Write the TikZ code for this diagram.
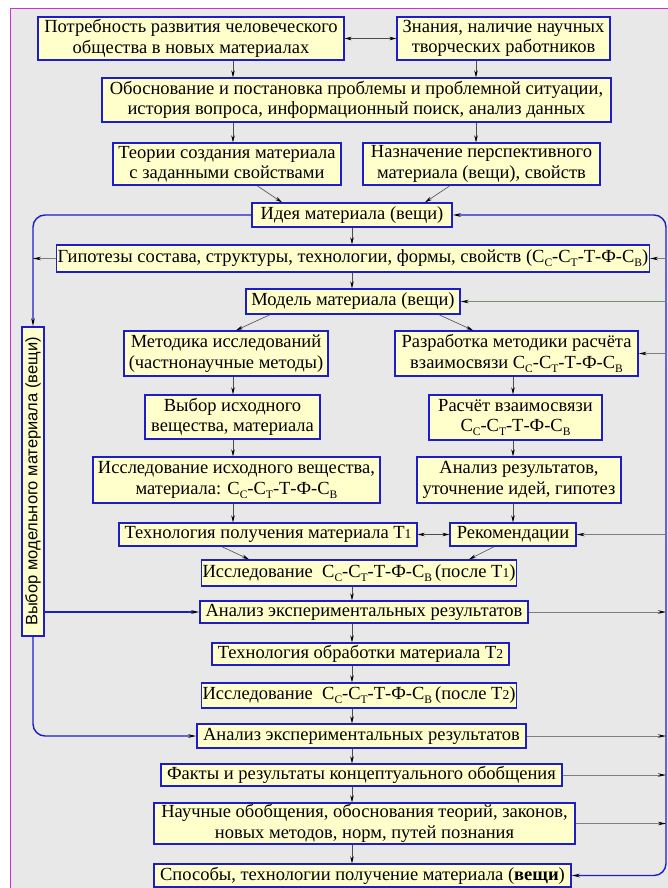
\documentclass[tikz,border=0pt]{standalone}
\usepackage{fontspec}
\setmainfont{Liberation Serif}
\setsansfont{Liberation Sans}
\usetikzlibrary{arrows.meta}

\definecolor{bggrey}{RGB}{232,232,232}
\definecolor{framepink}{RGB}{204,51,204}
\definecolor{boxfill}{RGB}{255,255,204}
\definecolor{boxblue}{RGB}{30,30,200}
\definecolor{linkgrey}{RGB}{125,125,125}
\definecolor{linkgreen}{RGB}{110,150,110}

\newcommand{\lowidx}[1]{\raisebox{-0.5ex}{\fontsize{11.5}{11.5}\selectfont #1}}
\newcommand{\cctf}{С\lowidx{С}-С\lowidx{Т}-Т-Ф-С\lowidx{В}}
\newcommand{\tidx}[1]{Т{\fontsize{13.5}{13.5}\selectfont #1}}

\begin{document}
\begin{tikzpicture}[x=1pt,y=-1pt,
    blk/.style={draw=boxblue,fill=boxfill,line width=1.4pt,align=center,inner sep=1pt,
        font=\rmfamily\fontsize{18.5}{20.5}\selectfont},
    arr/.style={-{Stealth[length=7pt,width=3.5pt,black]},draw=black!70,line width=0.6pt},
    arrboth/.style={{Stealth[length=7pt,width=3.5pt,black]}-{Stealth[length=7pt,width=3.5pt,black]},draw=black!70,line width=0.6pt},
    glink/.style={-{Stealth[length=8pt,width=3.5pt,black]},draw=linkgrey,line width=0.8pt},
    bus/.style={-{Stealth[length=8pt,width=3.5pt,black]},draw=boxblue,line width=1.4pt,rounded corners=12pt},
    busboth/.style={{Stealth[length=8pt,width=3.5pt,black]}-{Stealth[length=8pt,width=3.5pt,black]},draw=boxblue,line width=1.4pt,rounded corners=12pt}]
    % фон и рамка
    \useasboundingbox (0,0) rectangle (668,888);
    \fill[bggrey] (10,8) rectangle (668,888);
    \draw[framepink,line width=1.5pt] (10.5,888) -- (10.5,8.5) -- (668,8.5);

    % оси стрелок
    \coordinate (axl) at (233,0);
    \coordinate (axt) at (476,0);
    \coordinate (axm) at (352,0);
    \coordinate (axr) at (513,0);
    \coordinate (rbus) at (666,0);

    % блоки
    \node[blk,minimum width=306pt,minimum height=43pt] (need) at (191,38.5) {Потребность развития человеческого\\общества в новых материалах};
    \node[blk,minimum width=213pt,minimum height=43pt] (know) at (503.5,38.5) {Знания, наличие научных\\творческих работников};
    \node[blk,minimum width=509pt,minimum height=44pt] (obos) at (356.5,100) {Обоснование и постановка проблемы и проблемной ситуации,\\история вопроса, информационный поиск, анализ данных};
    \node[blk,minimum width=228pt,minimum height=42pt] (theor) at (227,164) {Теории создания материала\\с заданными свойствами};
    \node[blk,minimum width=237pt,minimum height=42pt] (purp) at (481.5,164) {Назначение перспективного\\материала (вещи), свойств};
    \node[blk,minimum width=200pt,minimum height=24pt] (idea) at (352,215) {Идея материала (вещи)};
    \node[blk,minimum width=588pt,minimum height=27pt] (hyp) at (353,258.5) {Гипотезы состава, структуры, технологии, формы, свойств (\cctf)};
    \node[blk,minimum width=214pt,minimum height=25pt] (model) at (353,301.5) {Модель материала (вещи)};
    \node[blk,minimum width=204pt,minimum height=45pt] (meth) at (226,353.5) {Методика исследований\\(частнонаучные методы)};
    \node[blk,minimum width=243pt,minimum height=45pt] (devm) at (516.5,353.5) {Разработка методики расчёта\\взаимосвязи \cctf};
    \node[blk,minimum width=175pt,minimum height=44pt] (choice) at (232.5,417) {Выбор исходного\\вещества, материала};
    \node[blk,minimum width=173pt,minimum height=45pt] (calc) at (515.5,417.5) {Расчёт взаимосвязи\\\cctf};
    \node[blk,minimum width=287pt,minimum height=46pt] (study) at (236.5,480) {Исследование исходного вещества,\\материала: \cctf};
    \node[blk,minimum width=204pt,minimum height=46pt] (anres) at (519,480) {Анализ результатов,\\уточнение идей, гипотез};
    \node[blk,minimum width=298pt,minimum height=23pt] (tech1) at (268,534.5) {Технология получения материала \tidx{1}};
    \node[blk,minimum width=126pt,minimum height=23pt] (recom) at (513,534.5) {Рекомендации};
    \node[blk,minimum width=304pt,minimum height=26pt] (st1) at (359,573) {Исследование\ \ \cctf\,(после \tidx{1})};
    \node[blk,minimum width=328pt,minimum height=22pt] (an1) at (364,612) {Анализ экспериментальных результатов};
    \node[blk,minimum width=297pt,minimum height=22pt] (tech2) at (360.5,654) {Технология обработки материала \tidx{2}};
    \node[blk,minimum width=304pt,minimum height=25pt] (st2) at (359,695.5) {Исследование\ \ \cctf\,(после \tidx{2})};
    \node[blk,minimum width=329pt,minimum height=24pt] (an2) at (361.5,736) {Анализ экспериментальных результатов};
    \node[blk,minimum width=401pt,minimum height=22pt] (facts) at (361.5,775) {Факты и результаты концептуального обобщения};
    \node[blk,minimum width=421pt,minimum height=41pt] (sci) at (364.5,823.5) {Научные обобщения, обоснования теорий, законов,\\новых методов, норм, путей познания};
    \node[blk,minimum width=417pt,minimum height=23pt] (ways) at (362.5,875.5) {Способы, технологии получение материала (\textbf{вещи})};
    \node[blk,rotate=90,font=\sffamily\fontsize{16.5}{18}\selectfont,minimum width=309pt,minimum height=22pt] (side) at (33,481.5) {Выбор модельного материала (вещи)};

    % стрелки
    \draw[arrboth] (need.east) -- (know.west);
    \draw[arr] (need.south -| axl) -- (obos.north -| axl);
    \draw[arr] (know.south -| axt) -- (obos.north -| axt);
    \draw[arr] (obos.south -| axl) -- (theor.north -| axl);
    \draw[arr] (obos.south -| axt) -- (purp.north -| axt);
    \draw[arr] (theor.south -| 257,0) -- (idea.north -| 282,0);
    \draw[arr] (purp.south -| 450,0) -- (idea.north -| 425,0);
    \draw[arr] (idea.south -| axm) -- (hyp.north -| axm);
    \draw[arr] (hyp.south -| axm) -- (model.north -| axm);
    \draw[arr] (model.south -| 270,0) -- (meth.north -| 236,0);
    \draw[arr] (model.south -| 439,0) -- (devm.north -| 473,0);
    \draw[arr] (meth.south -| axl) -- (choice.north -| axl);
    \draw[arr] (choice.south -| axl) -- (study.north -| axl);
    \draw[arr] (study.south -| axl) -- (tech1.north -| axl);
    \draw[arr] (devm.south -| axr) -- (calc.north -| axr);
    \draw[arr] (calc.south -| axr) -- (anres.north -| axr);
    \draw[arr] (anres.south -| axr) -- (recom.north -| axr);
    \draw[arrboth] (tech1.east) -- (recom.west);
    \draw[arr] (tech1.south -| 222,0) -- (st1.north -| 249,0);
    \draw[arr] (recom.south -| 494,0) -- (st1.north -| 469,0);
    \draw[arr] (st1.south -| axm) -- (an1.north -| axm);
    \draw[arr] (an1.south -| axm) -- (tech2.north -| axm);
    \draw[arr] (tech2.south -| axm) -- (st2.north -| axm);
    \draw[arr] (st2.south -| axm) -- (an2.north -| axm);
    \draw[arr] (an2.south -| axm) -- (facts.north -| axm);
    \draw[arr] (facts.south -| axm) -- (sci.north -| axm);
    \draw[arr] (sci.south -| axm) -- (ways.north -| axm);

    % левая ветвь
    \draw[bus] (idea.west) -| (side.east);
    \draw[bus] (side.south |- an1.west) -- (an1.west);
    \draw[bus] (side.west) |- (an2.west);
    \draw[glink] (hyp.west) -- (hyp.west -| side.east);

    % правая шина
    \draw[busboth] (idea.east) -- (idea.east -| rbus) -- (ways.east -| rbus) -- (ways.east);
    \draw[glink] (hyp.east -| rbus) -- (hyp.east);
    \draw[glink,draw=linkgreen] (model.east -| rbus) -- (model.east);
    \draw[glink] (devm.east -| rbus) -- (devm.east);
    \draw[glink] (recom.east -| rbus) -- (recom.east);
    \draw[glink] (an1.east) -- (an1.east -| rbus);
    \draw[glink] (an2.east) -- (an2.east -| rbus);
    \draw[glink] (facts.east) -- (facts.east -| rbus);
    \draw[glink] (sci.east) -- (sci.east -| rbus);
\end{tikzpicture}
\end{document}
